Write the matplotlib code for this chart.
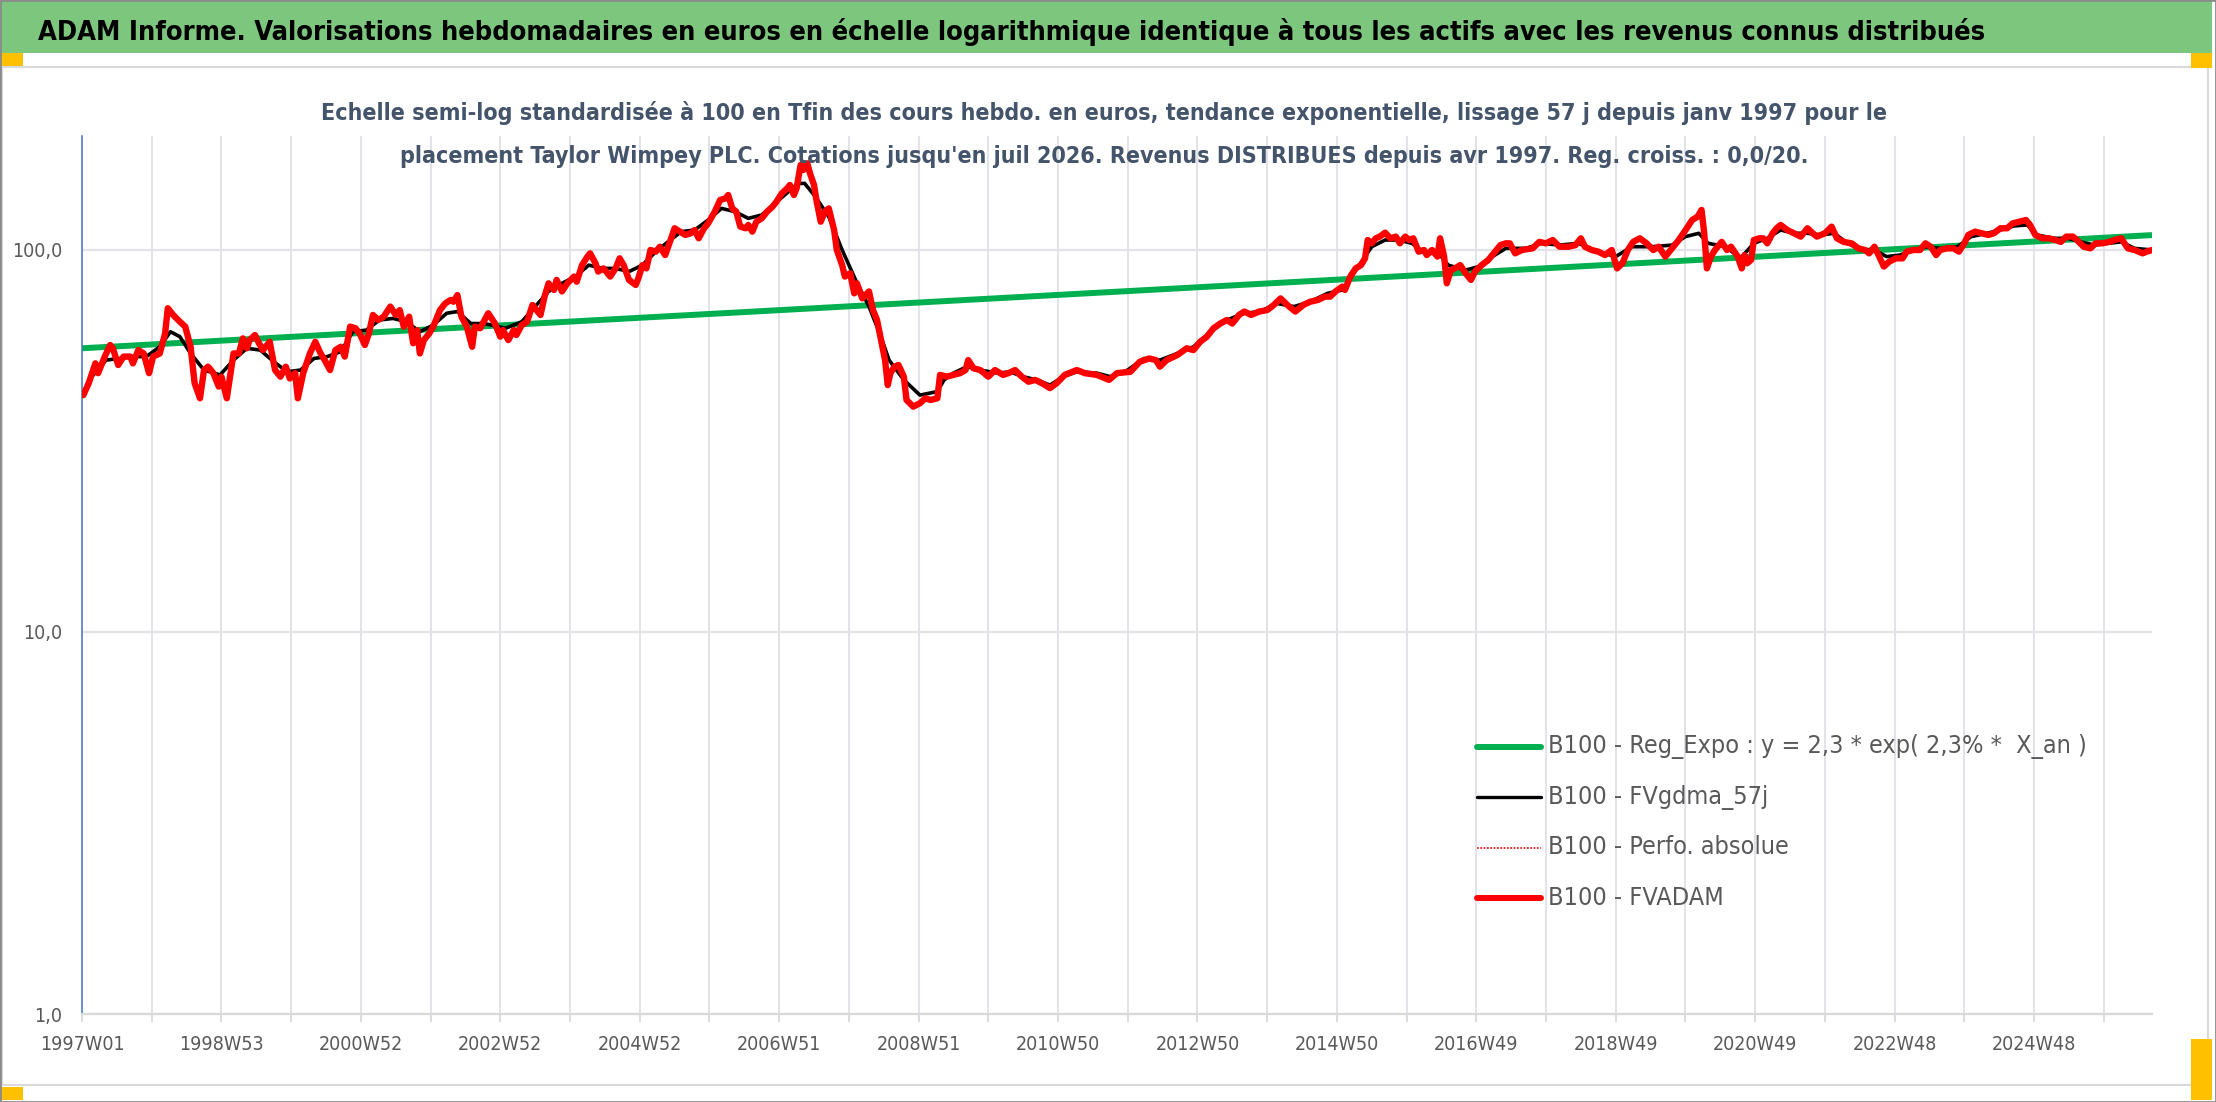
import matplotlib
matplotlib.use('Agg')
import matplotlib.pyplot as plt
import matplotlib.ticker as mticker
from matplotlib import font_manager
from matplotlib.patches import Rectangle
from matplotlib.lines import Line2D

# week index since 1997W01 -> value (base 100 at the end)
red_w = [1, 5, 10, 12, 17, 21, 23, 27, 31, 36, 38, 42, 46, 50, 53, 58, 62, 64, 68, 73,
         77, 81, 84, 88, 91, 94, 98, 102, 104, 108, 113, 117, 120, 123, 125, 129, 132, 135, 140, 144,
         148, 152, 155, 159, 161, 165, 170, 174, 178, 181, 185, 189, 193, 196, 200, 204, 207, 211, 214, 217,
         221, 225, 230, 234, 237, 240, 244, 247, 250, 252, 255, 259, 262, 267, 271, 275, 277, 280, 283, 287,
         291, 293, 297, 303, 308, 312, 314, 318, 322, 324, 328, 332, 336, 339, 342, 345, 348, 352, 354, 358,
         362, 367, 369, 373, 377, 379, 383, 385, 389, 394, 398, 401, 404, 408, 413, 415, 418, 421, 424, 428,
         431, 435, 439, 442, 446, 450, 454, 457, 460, 464, 467, 472, 476, 480, 482, 485, 488, 491, 495, 497,
         500, 503, 507, 511, 515, 518, 522, 526, 528, 531, 533, 536, 538, 541, 543, 546, 548, 551, 554, 557,
         561, 563, 567, 569, 573, 576, 578, 582, 587, 590, 593, 595, 599, 601, 603, 606, 609, 613, 615, 620,
         625, 629, 633, 638, 640, 645, 650, 655, 659, 661, 665, 670, 676, 681, 687, 691, 696, 701, 706, 711, 716,
         722, 727, 733, 742, 748, 757, 766, 772, 782, 789, 796, 801, 804, 809, 817, 824, 829, 834, 839, 844,
         849, 854, 858, 863, 867, 872, 878, 884, 889, 894, 899, 905, 911, 916, 922, 927, 931, 935, 940, 942,
         946, 950, 954, 957, 959, 962, 965, 968, 972, 976, 980, 983, 987, 990, 993, 997, 1001, 1003, 1007, 1011,
         1013, 1016, 1018, 1021, 1024, 1028, 1032, 1036, 1039, 1044, 1049, 1054, 1058, 1062, 1065, 1069, 1074, 1082, 1087, 1092,
         1097, 1102, 1109, 1114, 1118, 1121, 1126, 1131, 1136, 1141, 1145, 1149, 1153, 1157, 1162, 1167, 1172, 1176, 1181, 1186,
         1191, 1197, 1201, 1205, 1208, 1210, 1212, 1215, 1218, 1223, 1227, 1230, 1235, 1238, 1240, 1242, 1245, 1247, 1251, 1254,
         1257, 1261, 1264, 1267, 1272, 1277, 1282, 1287, 1291, 1294, 1300, 1305, 1309, 1314, 1320, 1325, 1330, 1333, 1337, 1340,
         1344, 1348, 1353, 1358, 1361, 1366, 1371, 1375, 1379, 1383, 1386, 1391, 1396, 1400, 1404, 1407, 1412, 1417, 1422, 1426,
         1431, 1436, 1440, 1445, 1450, 1453, 1457, 1462, 1467, 1472, 1476, 1480, 1485, 1488, 1493, 1498, 1502, 1507, 1512, 1516,
         1521, 1526, 1531, 1537, 1540, 1544]
red_v = [41.7, 44.8, 50.5, 47.6, 52.6, 56.4, 55.3, 50.0, 52.6, 52.6, 50.5, 54.7, 53.6, 47.6, 52.6, 53.6, 60.5, 70.4, 67.6, 64.9,
         63.0, 55.8, 44.8, 40.9, 48.5, 49.5, 47.6, 43.9, 46.6, 40.9, 53.6, 53.6, 58.7, 55.3, 58.1, 59.9, 57.0, 54.7, 57.5, 48.5,
         46.6, 49.5, 46.1, 47.6, 40.9, 47.6, 53.6, 57.5, 53.6, 51.5, 48.5, 54.7, 55.8, 52.6, 63.0, 62.4, 60.5, 56.4, 60.5, 67.6,
         65.6, 66.9, 71.1, 67.6, 69.6, 63.0, 66.9, 57.0, 61.7, 53.6, 58.1, 60.5, 63.0, 69.6, 72.5, 74.0, 73.2, 76.2, 66.9, 63.0,
         55.8, 63.0, 62.4, 68.3, 64.2, 59.3, 61.7, 58.1, 61.7, 59.9, 63.6, 64.9, 71.8, 69.6, 67.6, 75.5, 81.8, 78.6, 83.5, 77.9,
         81.8, 85.2, 82.6, 91.3, 96.1, 98.0, 92.3, 87.8, 89.5, 85.2, 89.5, 95.1, 91.3, 83.5, 81.0, 84.4, 91.3, 89.5, 100.0, 99.0,
         102.0, 97.0, 106.2, 114.0, 111.7, 109.5, 110.6, 112.8, 107.3, 114.0, 117.4, 126.0, 135.2, 136.5, 139.3, 128.5, 126.0, 115.1, 114.0, 116.3,
         111.7, 118.6, 121.0, 126.0, 129.8, 133.8, 140.7, 145.0, 148.0, 139.3, 145.0, 166.9, 162.0, 168.6, 158.7, 148.0, 133.8, 118.6, 126.0, 128.5,
         112.8, 100.0, 91.3, 85.2, 86.9, 77.0, 81.8, 74.7, 77.9, 69.6, 65.6, 60.5, 51.5, 44.3, 47.6, 49.5, 50.0, 46.6, 40.5, 38.9,
         39.7, 40.9, 40.5, 40.9, 47.1, 46.6, 47.1, 47.6, 48.5, 51.5, 49.0, 48.5, 46.6, 48.5, 47.1, 47.6, 48.5, 46.6, 45.2, 45.7, 44.8,
         43.5, 44.8, 47.1, 48.5, 47.6, 47.1, 45.7, 47.6, 48.0, 51.0, 52.0, 51.5, 49.5, 51.5, 53.1, 55.3, 54.7, 57.5, 59.3, 62.4,
         64.2, 65.6, 64.2, 67.6, 69.0, 67.6, 69.0, 69.6, 71.8, 74.7, 71.8, 69.0, 71.8, 73.2, 74.0, 75.5, 75.5, 77.9, 80.2, 78.6,
         85.2, 89.5, 91.3, 95.1, 106.2, 104.1, 107.3, 108.4, 111.0, 107.3, 108.4, 104.1, 108.4, 106.2, 107.3, 99.0, 100.0, 97.0, 100.0, 96.1,
         107.3, 96.1, 81.8, 88.6, 89.5, 91.3, 86.9, 83.5, 87.8, 91.3, 94.2, 99.0, 103.0, 104.1, 104.1, 98.0, 100.0, 101.0, 105.0, 104.1,
         106.2, 102.0, 102.0, 103.0, 107.3, 102.0, 100.0, 99.0, 97.0, 100.0, 89.5, 92.3, 100.0, 105.0, 107.3, 104.1, 100.0, 102.0, 96.1, 101.0,
         106.2, 114.0, 119.8, 122.2, 127.3, 110.6, 89.5, 96.1, 100.0, 105.0, 100.0, 102.0, 96.1, 89.5, 97.0, 92.3, 94.2, 106.2, 107.3, 107.3,
         104.1, 110.6, 114.0, 116.3, 112.8, 110.6, 108.4, 114.0, 110.6, 108.4, 110.6, 115.1, 107.3, 105.0, 104.1, 101.0, 100.0, 98.0, 102.0, 97.0,
         90.5, 93.2, 95.1, 95.1, 99.0, 100.0, 100.0, 104.1, 102.0, 97.0, 100.0, 101.0, 101.0, 99.0, 104.1, 109.5, 111.7, 110.6, 109.5, 110.6,
         114.0, 114.0, 117.4, 118.6, 119.8, 116.3, 109.5, 107.3, 107.3, 106.2, 105.0, 108.4, 108.4, 106.2, 102.0, 101.0, 104.1, 104.1, 105.0, 106.2,
         107.3, 101.0, 100.0, 98.0, 99.0, 100.0]

black_w = [6, 18, 28, 38, 48, 58, 66, 73, 81, 91, 103, 113, 123, 133, 143, 153, 163, 173, 183, 193,
           202, 212, 222, 232, 242, 252, 262, 272, 280, 290, 300, 316, 328, 338, 348, 358, 368, 378, 388, 398,
           408, 418, 428, 437, 447, 457, 467, 477, 487, 497, 507, 517, 527, 534, 539, 547, 557, 567, 577, 587,
           595, 602, 613, 625, 638, 643, 650, 660, 670, 683, 692, 702, 712, 722, 732, 742, 757, 767, 780, 792,
           804, 817, 829, 842, 854, 867, 879, 891, 904, 916, 929, 940, 952, 962, 972, 982, 992, 1002, 1012, 1019,
           1032, 1042, 1052, 1062, 1077, 1089, 1102, 1116, 1131, 1144, 1156, 1171, 1186, 1196, 1206, 1213, 1226, 1237, 1247, 1257,
           1267, 1277, 1287, 1297, 1307, 1317, 1327, 1337, 1346, 1356, 1366, 1376, 1386, 1399, 1409, 1421, 1431, 1441, 1451, 1458,
           1471, 1481, 1491, 1501, 1511, 1521, 1531, 1544]
black_v = [46.0, 51.5, 52.0, 52.6, 52.6, 55.8, 61.1, 59.3, 53.6, 48.5, 47.1, 51.5, 55.3, 54.7, 51.0, 48.0, 48.5, 52.0, 52.6, 54.2,
           61.1, 61.7, 65.6, 66.2, 64.9, 61.1, 63.6, 68.3, 69.0, 64.2, 64.2, 62.4, 64.9, 71.1, 77.9, 81.8, 85.2, 91.3, 89.5, 89.5,
           87.8, 91.3, 99.0, 105.0, 111.7, 112.8, 119.8, 128.5, 126.0, 121.0, 123.5, 132.5, 142.1, 149.4, 149.4, 138.0, 122.2, 100.0, 83.5, 71.1,
           60.5, 51.5, 45.7, 41.7, 42.6, 45.7, 47.6, 49.5, 48.5, 47.6, 48.0, 46.6, 45.7, 44.3, 46.6, 48.0, 47.6, 46.6, 48.5, 52.0,
           51.5, 53.6, 55.8, 61.1, 65.6, 68.3, 69.0, 72.5, 71.1, 73.2, 77.0, 78.6, 90.5, 102.0, 106.2, 106.2, 104.1, 98.0, 98.0, 91.3,
           88.6, 90.5, 96.1, 101.0, 101.0, 104.1, 103.0, 104.1, 99.0, 96.1, 102.0, 102.0, 103.0, 108.4, 110.6, 104.1, 102.0, 95.1, 104.1, 107.3,
           112.8, 110.6, 110.6, 109.5, 110.6, 104.1, 100.0, 100.0, 96.1, 97.0, 100.0, 102.0, 101.0, 102.0, 108.4, 110.6, 112.8, 115.6, 116.3, 109.5,
           107.3, 107.3, 105.0, 103.0, 104.1, 105.0, 101.0, 100.0]

trend_w = [0, 1544]
trend_v = [55.3, 109.4]

tick_pos = [0, 104, 208, 312, 416, 520, 624, 728, 832, 936, 1040, 1144, 1248, 1352, 1456]
tick_labels = ['1997W01', '1998W53', '2000W52', '2002W52', '2004W52', '2006W51', '2008W51', '2010W50',
               '2012W50', '2014W50', '2016W49', '2018W49', '2020W49', '2022W48', '2024W48']

labels = ['B100 - Reg_Expo : y = 2,3 * exp( 2,3% *  X_an )', 'B100 - FVgdma_57j',
          'B100 - Perfo. absolue', 'B100 - FVADAM']

title = ("ADAM Informe. Valorisations hebdomadaires en euros en échelle logarithmique "
         "identique à tous les actifs avec les revenus connus distribués")
sub1 = ("Echelle semi-log standardisée à 100 en Tfin des cours hebdo. en euros, tendance "
        "exponentielle, lissage 57 j depuis janv 1997 pour le")
sub2 = ("placement Taylor Wimpey PLC. Cotations jusqu'en juil 2026. Revenus DISTRIBUES "
        "depuis avr 1997. Reg. croiss. : 0,0/20.")

# pick a narrow font if one is there
fonts = font_manager.fontManager.ttflist
names = {f.name for f in fonts}
stretch = 'normal'
if 'Liberation Sans Narrow' in names:
    fam = 'Liberation Sans Narrow'
elif any(f.name == 'DejaVu Sans' and 'condensed' in str(f.stretch) for f in fonts):
    fam, stretch = 'DejaVu Sans', 'condensed'
else:
    fam = 'Liberation Sans'
plt.rcParams['font.family'] = fam
plt.rcParams['font.stretch'] = stretch

W, H = 2216, 1102
fig = plt.figure(figsize=(W / 100, H / 100), dpi=100)
renderer = fig.canvas.get_renderer()


def fx(px):
    return px / W


def fy(py):
    return 1 - py / H


def fit(s, width_px, **kw):
    t = fig.text(0, 0, s, fontsize=20, **kw)
    w = t.get_window_extent(renderer).width
    t.remove()
    return 20 * width_px / w


# frame bits
fig.patches.append(Rectangle((0, fy(53)), fx(2212), 53 / H, transform=fig.transFigure,
                             facecolor='#7dc67e', edgecolor='none', zorder=0))
fig.patches.append(Rectangle((fx(2), fy(1085)), fx(2206), (1085 - 67) / H, transform=fig.transFigure,
                             facecolor='none', edgecolor='#d9d9d9', lw=1.5, zorder=0))
for x0, y0, x1, y1 in [(0, 53, 23, 66), (2191, 53, 2212, 68), (2191, 1039, 2212, 1100), (0, 1087, 23, 1100)]:
    fig.patches.append(Rectangle((fx(x0), fy(y1)), fx(x1 - x0), (y1 - y0) / H, transform=fig.transFigure,
                                 facecolor='#ffc000', edgecolor='none', zorder=1))
fig.patches.append(Rectangle((0, 0), 1, 1, transform=fig.transFigure, facecolor='none',
                             edgecolor='#8c8c8c', lw=2, zorder=2))

# titles
fs = fit(title, 1952, weight='bold')
fig.text(fx(1012), fy(40), title, ha='center', va='baseline', fontsize=fs, weight='bold', color='black')
fs2 = fit(sub1, 1566, weight='bold')
fig.text(fx(1104), fy(120), sub1, ha='center', va='baseline', fontsize=fs2, weight='bold', color='#44546a')
fig.text(fx(1104), fy(163), sub2, ha='center', va='baseline', fontsize=fs2, weight='bold', color='#44546a')

# plot area
ax = fig.add_axes([fx(82), fy(1014), (2152 - 82) / W, (1014 - 136) / H])
ax.set_yscale('log')
ax.set_ylim(1, 198.8)
ax.set_xlim(0, 1544)

l_trend, = ax.plot(trend_w, trend_v, color='#00b050', lw=4.3, solid_capstyle='butt', zorder=2)
l_perf, = ax.plot(red_w, red_v, color='#ff0000', lw=1.2, ls=(0, (1, 1)), zorder=3)
l_black, = ax.plot(black_w, black_v, color='black', lw=2.6, solid_joinstyle='round', zorder=4)
l_red, = ax.plot(red_w, red_v, color='#ff0000', lw=4.6, solid_joinstyle='round',
                 solid_capstyle='round', zorder=5)

ax.yaxis.set_major_locator(mticker.FixedLocator([1, 10, 100]))
ax.yaxis.set_minor_locator(mticker.NullLocator())
ax.set_yticklabels(['1,0', '10,0', '100,0'])
ax.xaxis.set_major_locator(mticker.FixedLocator(tick_pos))
ax.xaxis.set_minor_locator(mticker.FixedLocator([p + 52 for p in tick_pos]))
ax.set_xticklabels(tick_labels)

tfs = fit('1997W01', 85)
ax.tick_params(axis='y', length=0, pad=14, labelsize=tfs, labelcolor='#595959')
ax.tick_params(axis='x', which='both', direction='out', length=6, width=1.3, color='#d9d9d9')
ax.tick_params(axis='x', which='major', pad=9, labelsize=tfs, labelcolor='#595959')
ax.grid(True, which='both', axis='x', color='#e1e3e8', lw=1.4)
ax.grid(True, which='major', axis='y', color='#e1e3e8', lw=1.6)
ax.set_axisbelow(True)
for s in ['top', 'right']:
    ax.spines[s].set_visible(False)
ax.spines['left'].set_color('#4472c4')
ax.spines['left'].set_linewidth(1.1)
ax.spines['bottom'].set_color('#d9d9d9')
ax.spines['bottom'].set_linewidth(1.6)

# legend drawn at fixed spots
lfs = fit(labels[0], 540)
styles = [dict(color='#00b050', lw=4.3), dict(color='black', lw=2.4),
          dict(color='#ff0000', lw=1.2, ls=(0, (1, 1))), dict(color='#ff0000', lw=4.3)]
for i, (lab, st) in enumerate(zip(labels, styles)):
    yy = 746.7 + 50.4 * i
    fig.lines.append(Line2D([fx(1477), fx(1541)], [fy(yy), fy(yy)], transform=fig.transFigure,
                            solid_capstyle='round', **st))
    fig.text(fx(1548), fy(yy), lab, ha='left', va='center', fontsize=lfs, color='#595959')

fig.savefig('out.png', dpi=100)
